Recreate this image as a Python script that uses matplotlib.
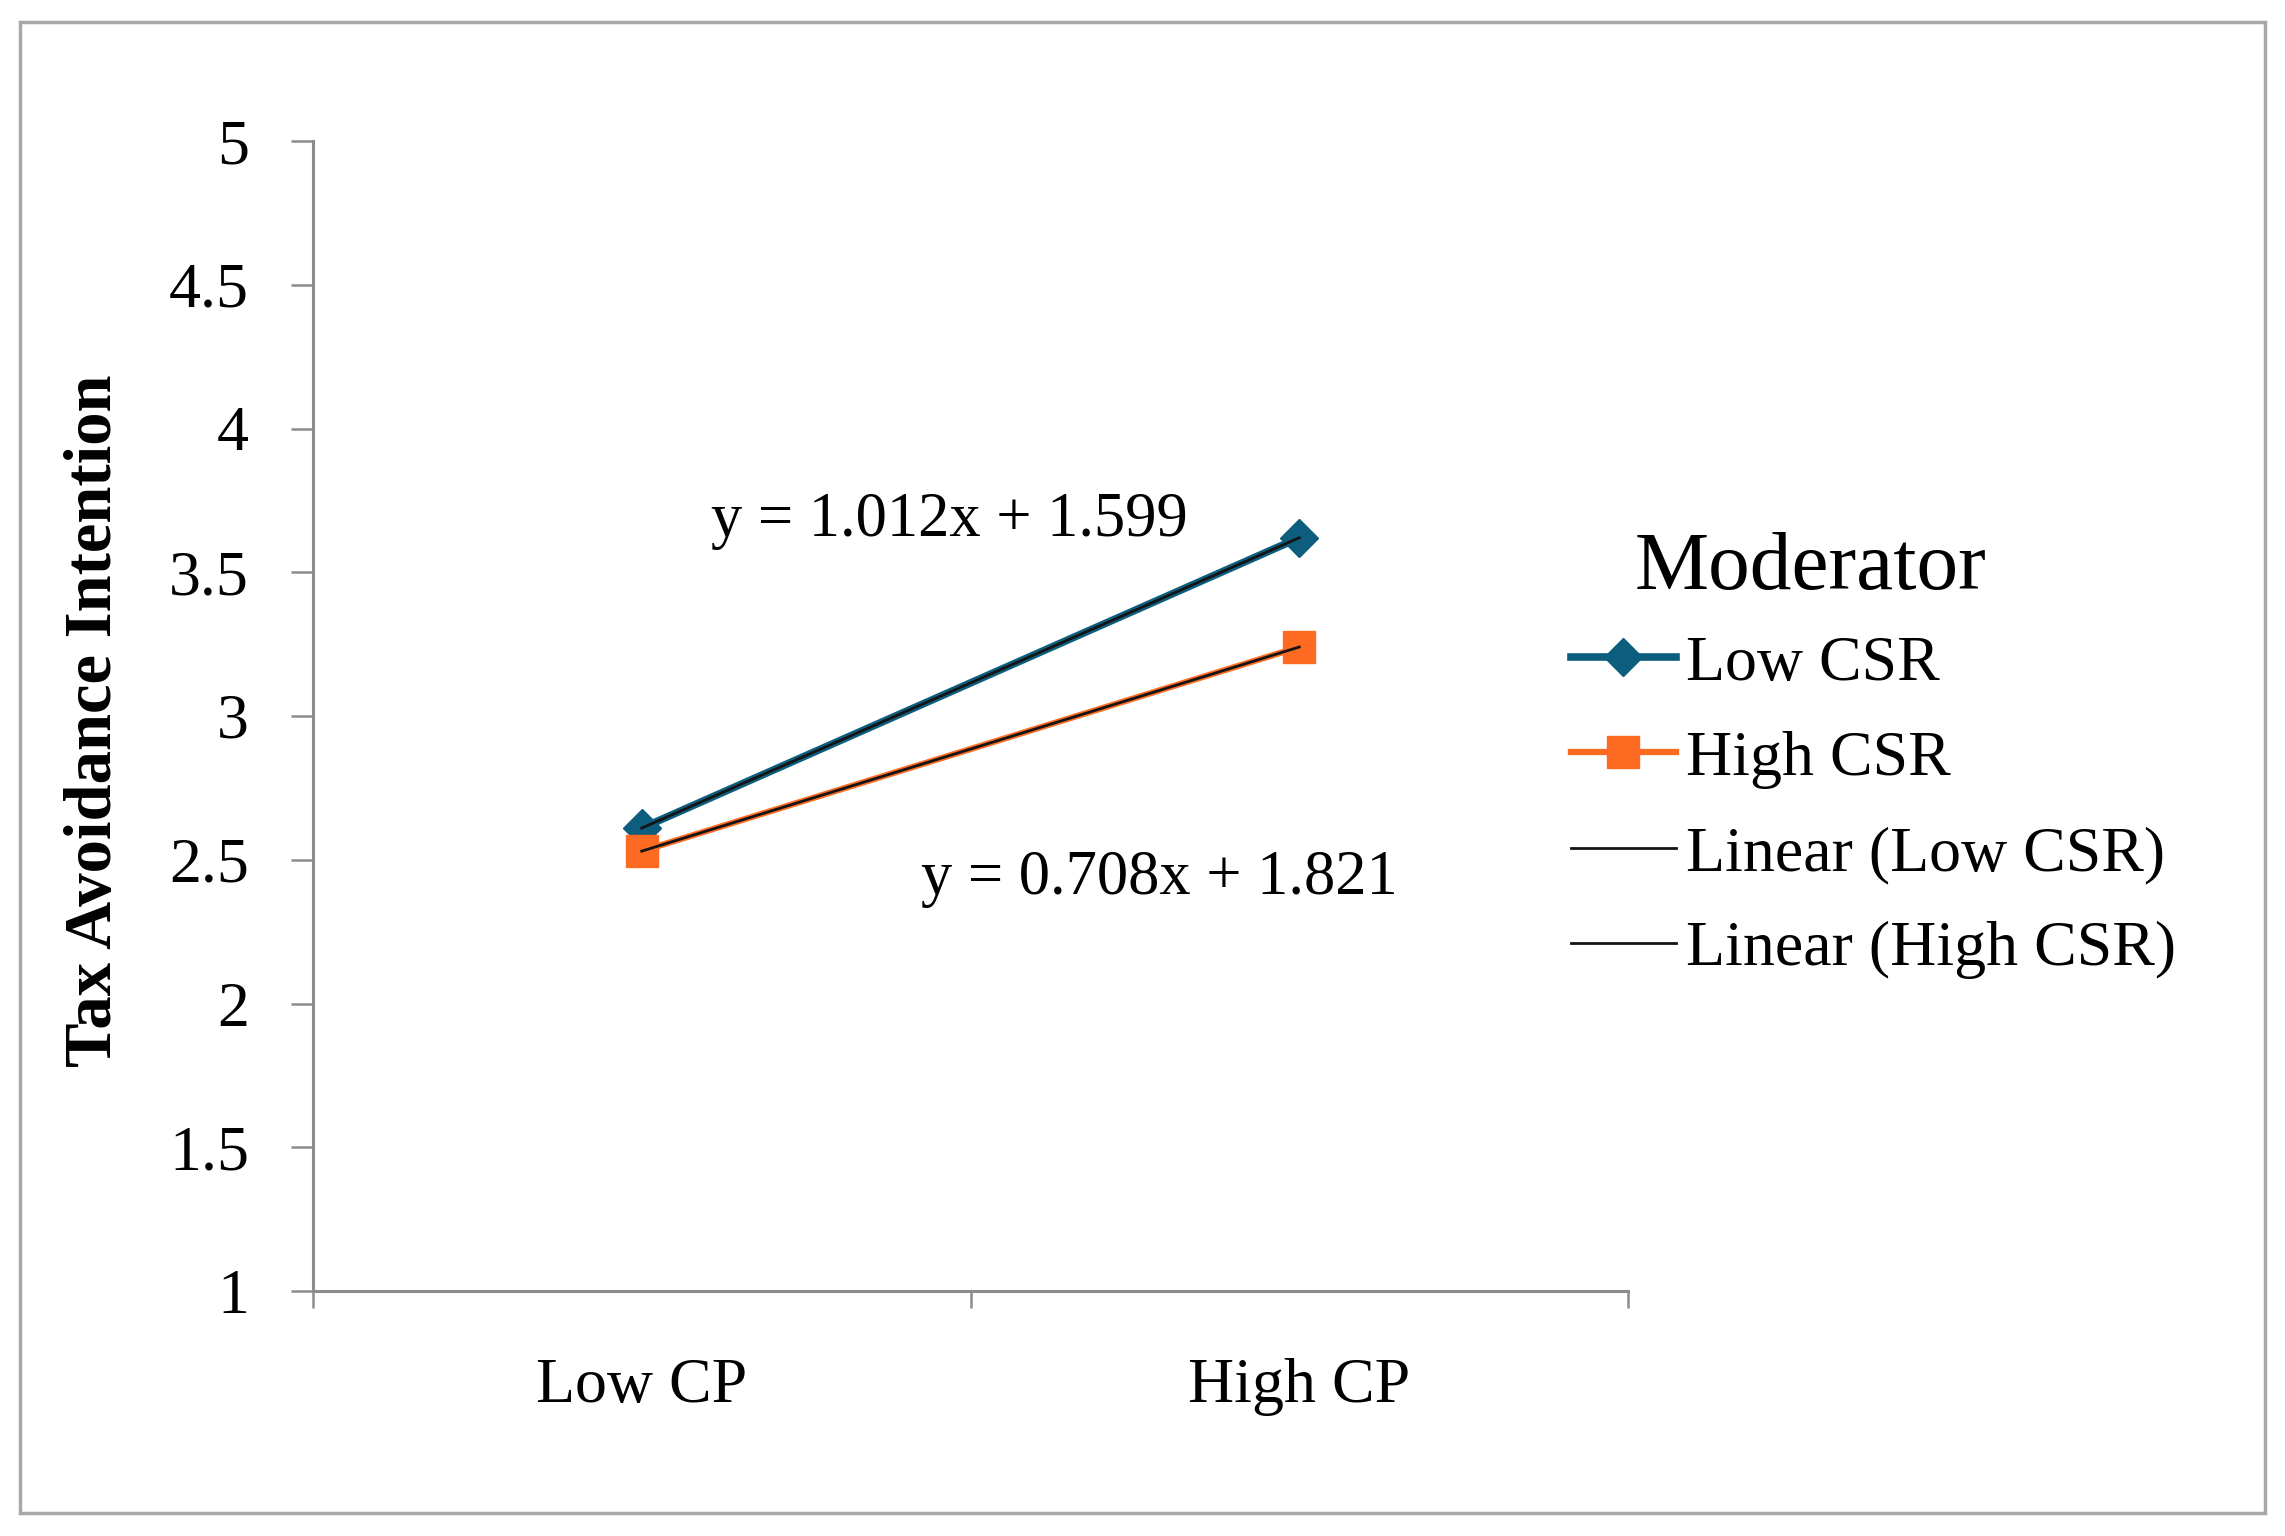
import matplotlib
matplotlib.use("Agg")
import matplotlib.pyplot as plt
from matplotlib.patches import Rectangle
from matplotlib.lines import Line2D

# ---- data ----
categories = ["Low CP", "High CP"]
low_csr = [2.61, 3.62]
high_csr = [2.53, 3.24]
eq_low = "y = 1.012x + 1.599"
eq_high = "y = 0.708x + 1.821"
y_ticks = [1, 1.5, 2, 2.5, 3, 3.5, 4, 4.5, 5]
y_tick_labels = ["1", "1.5", "2", "2.5", "3", "3.5", "4", "4.5", "5"]
legend_labels = ["Low CSR", "High CSR", "Linear (Low CSR)", "Linear (High CSR)"]

BLUE = "#0d5e7e"
ORANGE = "#fc6b21"
TREND = "#141414"
GRAY = "#8c8c8c"

plt.rcParams["font.family"] = ["Liberation Serif", "DejaVu Serif"]
FS = 46

W, H = 2285, 1536
fig = plt.figure(figsize=(W / 100, H / 100), dpi=100)
ax = fig.add_axes([313 / W, 1 - 1291 / H, (1628 - 313) / W, (1291 - 141) / H])

x = list(range(len(categories)))
ax.plot(x, low_csr, color=BLUE, lw=5.5, marker="D", ms=19, zorder=3)
ax.plot(x, high_csr, color=ORANGE, lw=4.5, marker="s", ms=23, zorder=3)
# linear trend lines (identical to two-point fits)
ax.plot(x, low_csr, color=TREND, lw=2, zorder=4)
ax.plot(x, high_csr, color=TREND, lw=2, zorder=4)

ax.set_xlim(-0.5, 1.5)
ax.set_ylim(1, 5)

ax.set_yticks(y_ticks)
ax.set_yticklabels(y_tick_labels)
ax.tick_params(axis="y", direction="out", length=16, width=1.8, color=GRAY,
               pad=30, labelsize=FS)

ax.set_xticks([-0.5, 0.5, 1.5])
ax.set_xticklabels([])
ax.set_xticks(x, minor=True)
ax.set_xticklabels(categories, minor=True)
ax.tick_params(axis="x", which="major", direction="out", length=12, width=1.8, color=GRAY)
ax.tick_params(axis="x", which="minor", length=0, pad=48, labelsize=FS)

for s in ["top", "right"]:
    ax.spines[s].set_visible(False)
for s in ["left", "bottom"]:
    ax.spines[s].set_color(GRAY)
    ax.spines[s].set_linewidth(2.2)

ax.set_ylabel("Tax Avoidance Intention", fontsize=48, fontweight="bold", va="center")
ax.yaxis.set_label_coords(-0.166, 0.496)

ax.text(0.105, 3.68, eq_low, fontsize=45, ha="left", va="center")
ax.text(0.425, 2.433, eq_high, fontsize=45, ha="left", va="center")

handles = [
    Line2D([], [], color=BLUE, lw=5.5, marker="D", ms=19),
    Line2D([], [], color=ORANGE, lw=4.5, marker="s", ms=23),
    Line2D([], [], color=TREND, lw=2),
    Line2D([], [], color=TREND, lw=2),
]
fig.legend(handles, legend_labels, loc="upper left",
           bbox_to_anchor=(1571 / W, 1 - 635 / H), frameon=False,
           fontsize=FS, handlelength=1.64, handletextpad=0.16,
           labelspacing=0.57, borderpad=0, borderaxespad=0)
fig.text(1635 / W, 1 - 569 / H, "Moderator", fontsize=60, ha="left", va="center")

fig.patches.append(Rectangle((20 / W, 1 - 1513 / H), (2265 - 20) / W, (1513 - 22) / H,
                             transform=fig.transFigure, fill=False,
                             ec="#a8a8a8", lw=2.5))

fig.savefig("out.png", dpi=100)
